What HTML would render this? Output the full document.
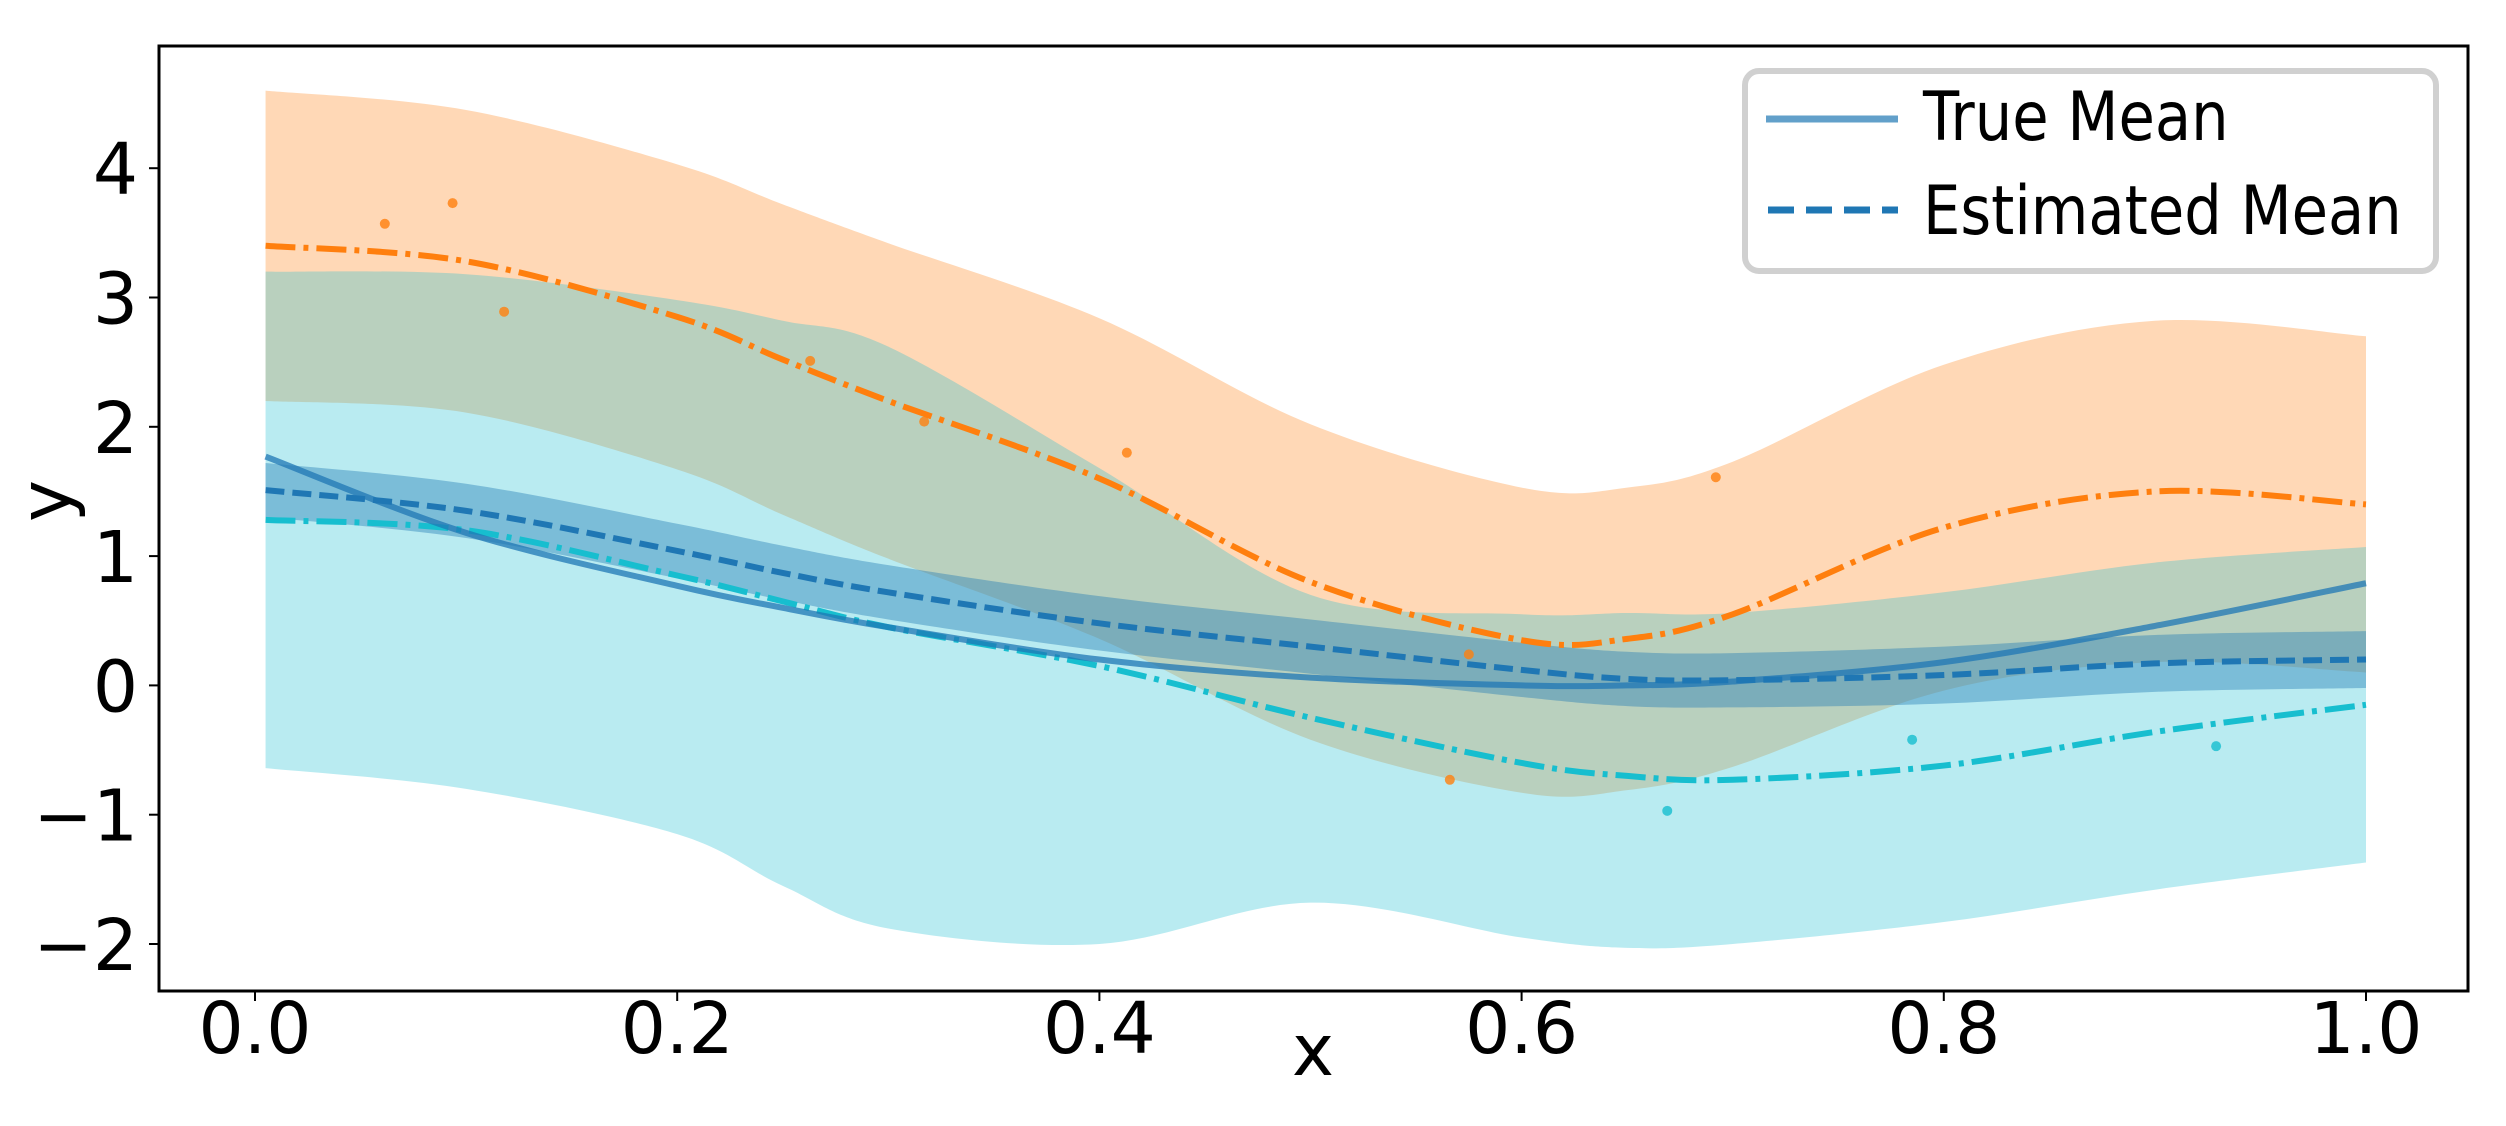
<!DOCTYPE html>
<html><head><meta charset="utf-8"><style>
html,body{margin:0;padding:0;background:#fff;}
svg{display:block;}
text{font-family:"DejaVu Sans","Liberation Sans",sans-serif;fill:#000;}
</style></head><body>
<svg id="chart" width="2506" height="1126" viewBox="0 0 2506 1126" xmlns="http://www.w3.org/2000/svg">
<rect x="0" y="0" width="2506" height="1126" fill="#fff"/>
<g id="plot"></g>
<rect x="159" y="46" width="2309" height="945" fill="none" stroke="#000" stroke-width="3"/>
<g id="axes"></g>
<g>
<rect x="1745" y="71" width="691" height="200" rx="14" fill="#fff" fill-opacity="0.8" stroke="#d0d0d0" stroke-width="6"/>
<line x1="1766" y1="119" x2="1898" y2="119" stroke="#1f77b4" stroke-opacity="0.7" stroke-width="7"/>
<text x="1923" y="140" font-size="68" transform="translate(1923 0) scale(0.87 1) translate(-1923 0)">True Mean</text>
<line x1="1768" y1="210" x2="1898" y2="210" stroke="#1f77b4" stroke-width="7" stroke-dasharray="26 12"/>
<text x="1923" y="234" font-size="68" transform="translate(1923 0) scale(0.87 1) translate(-1923 0)">Estimated Mean</text>
</g>
</svg>
<script>
const xGrid = [0.005,0.1,0.2,0.25,0.3,0.4,0.5,0.6,0.65,0.7,0.8,0.9,1.0];
const orangeMean = [3.40,3.28,2.85,2.52,2.20,1.60,0.80,0.35,0.36,0.55,1.22,1.50,1.40];
const orangeHalfWidth = [1.20,1.17,1.18,1.20,1.22,1.24,1.22,1.18,1.17,1.18,1.26,1.32,1.30];
const cyanMean = [1.28,1.20,0.85,0.65,0.45,0.15,-0.25,-0.60,-0.70,-0.73,-0.62,-0.36,-0.15];
const cyanUpper = [3.20,3.18,2.98,2.82,2.62,1.68,0.70,0.55,0.56,0.56,0.72,0.95,1.07];
const cyanLower = [-0.64,-0.80,-1.15,-1.55,-1.88,-2.00,-1.68,-1.95,-2.03,-2.00,-1.83,-1.58,-1.37];
const estMean = [1.51,1.35,1.04,0.87,0.72,0.48,0.30,0.12,0.05,0.04,0.08,0.17,0.20];
const estHalfWidth = [0.21,0.21,0.21,0.21,0.21,0.21,0.21,0.21,0.21,0.21,0.22,0.22,0.22];
const trueMean = [1.77,1.18,0.77,0.60,0.45,0.20,0.06,0.00,0.00,0.03,0.18,0.46,0.79];
const orangePointsX = [0.0615,0.0936,0.118,0.263,0.317,0.413,0.575,0.566,0.692];
const orangePointsY = [3.57,3.73,2.89,2.51,2.04,1.80,0.24,-0.73,1.61];
const cyanPointsX = [0.669,0.785,0.929];
const cyanPointsY = [-0.97,-0.42,-0.47];
const xTicks = [0.0,0.2,0.4,0.6,0.8,1.0];
const xTickLabels = ["0.0","0.2","0.4","0.6","0.8","1.0"];
const yTicks = [-2,-1,0,1,2,3,4];
const yTickLabels = ["\u22122","\u22121","0","1","2","3","4"];

const NS="http://www.w3.org/2000/svg";
function sx(v){return 255+v*2111;}
function sy(v){return 685.4-v*129.3;}
function mk(tag,attrs,parent){const e=document.createElementNS(NS,tag);for(const k in attrs)e.setAttribute(k,attrs[k]);parent.appendChild(e);return e;}
function pts(xs,ys){return xs.map((x,i)=>[sx(x),sy(ys[i])]);}
function smooth(p,move){
  let d=move?`M${p[0][0]},${p[0][1]}`:`L${p[0][0]},${p[0][1]}`;
  for(let i=0;i<p.length-1;i++){
    const p0=p[i-1]||p[i],p1=p[i],p2=p[i+1],p3=p[i+2]||p[i+1];
    const c1=[p1[0]+(p2[0]-p0[0])/6,p1[1]+(p2[1]-p0[1])/6];
    const c2=[p2[0]-(p3[0]-p1[0])/6,p2[1]-(p3[1]-p1[1])/6];
    d+=` C${c1[0]},${c1[1]} ${c2[0]},${c2[1]} ${p2[0]},${p2[1]}`;
  }
  return d;
}
function band(up,lo){
  const a=pts(xGrid,up), b=pts(xGrid,lo).reverse();
  return smooth(a,true)+" "+smooth(b,false)+" Z";
}
const plot=document.getElementById('plot');
const axes=document.getElementById('axes');

const oUp=orangeMean.map((m,i)=>m+orangeHalfWidth[i]);
const oLo=orangeMean.map((m,i)=>m-orangeHalfWidth[i]);
let e;
e=mk('path',{d:band(oUp,oLo),fill:'#ff7f0e','fill-opacity':0.3},plot);


e=mk('path',{d:band(cyanUpper,cyanLower),fill:'#17becf','fill-opacity':0.3},plot);


const bUp=estMean.map((m,i)=>m+estHalfWidth[i]);
const bLo=estMean.map((m,i)=>m-estHalfWidth[i]);
e=mk('path',{d:band(bUp,bLo),fill:'#1f77b4','fill-opacity':0.4},plot);



e=mk('path',{d:smooth(pts(xGrid,orangeMean),true),fill:'none',stroke:'#ff7f0e','stroke-width':6,'stroke-dasharray':'30 8 5 8'},plot);


e=mk('path',{d:smooth(pts(xGrid,cyanMean),true),fill:'none',stroke:'#17becf','stroke-width':6,'stroke-dasharray':'30 8 5 8'},plot);


e=mk('path',{d:smooth(pts(xGrid,trueMean),true),fill:'none',stroke:'#1f77b4','stroke-opacity':0.75,'stroke-width':6},plot);


e=mk('path',{d:smooth(pts(xGrid,estMean),true),fill:'none',stroke:'#1f77b4','stroke-width':6,'stroke-dasharray':'19 8'},plot);



orangePointsX.forEach((x,i)=>{
  const c=mk('circle',{cx:sx(x),cy:sy(orangePointsY[i]),r:5,fill:'#ff7f0e','fill-opacity':0.8},plot);
  
  
});
cyanPointsX.forEach((x,i)=>{
  const c=mk('circle',{cx:sx(x),cy:sy(cyanPointsY[i]),r:5,fill:'#17becf','fill-opacity':0.8},plot);
  
  
});

xTicks.forEach((v,i)=>{
  const x=sx(v);
  const t=mk('line',{x1:x,y1:991,x2:x,y2:1001,stroke:'#000','stroke-width':2},axes);
  
  
  const l=mk('text',{x:x,y:1053,'font-size':71,'text-anchor':'middle'},axes);
  l.textContent=xTickLabels[i];
  
  
});
yTicks.forEach((v,i)=>{
  const y=sy(v);
  const t=mk('line',{x1:149,y1:y,x2:159,y2:y,stroke:'#000','stroke-width':2},axes);
  
  
  const l=mk('text',{x:138,y:y+26,'font-size':71,'text-anchor':'end'},axes);
  l.textContent=yTickLabels[i];
  
  
});
e=mk('text',{x:1313,y:1075,'font-size':71,'text-anchor':'middle'},axes);
e.textContent='x';


e=mk('text',{x:0,y:0,'font-size':71,'text-anchor':'middle',transform:'translate(70 501) rotate(-90)'},axes);
e.textContent='y';


</script>
</body></html>
